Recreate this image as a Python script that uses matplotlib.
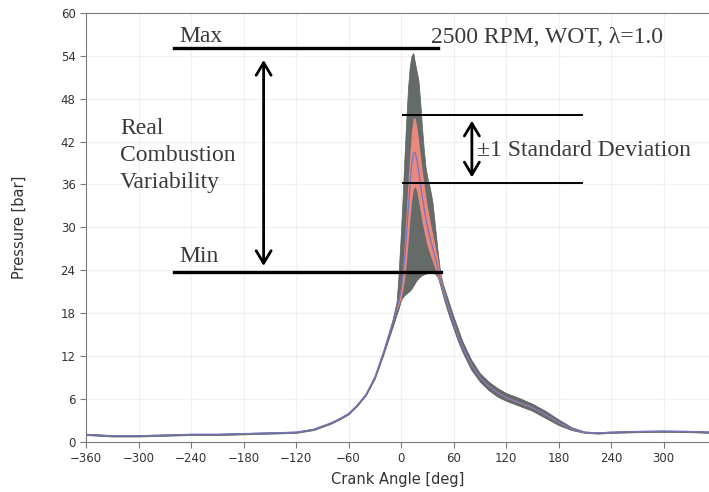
import numpy as np
import matplotlib
matplotlib.use("Agg")
import matplotlib.pyplot as plt

# crank angle grid [deg] and cylinder pressure statistics [bar]
angle = [-360, -330, -300, -270, -240, -210, -180, -150, -120, -100, -80, -70, -60, -50,
         -40, -30, -20, -10, -5, -3, 0, 2, 4, 6, 8, 10, 12, 14, 16, 18, 20, 22, 24, 26,
         28, 30, 33, 36, 39, 42, 45, 48, 52, 56, 60, 65, 70, 80, 90, 100, 110, 120, 135,
         150, 165, 180, 195, 210, 225, 240, 270, 300, 330, 355]
p_mean = [1.0, 0.8, 0.8, 0.9, 1.0, 1.0, 1.1, 1.2, 1.3, 1.7, 2.6, 3.2, 3.9, 5.1,
          6.6, 9.0, 12.5, 16.4, 18.6, 19.4, 21.0, 23.0, 25.5, 28.5, 32.0, 35.5, 38.5, 40.3, 40.5, 39.6, 38.0, 36.2, 34.5, 33.0,
          31.5, 30.2, 28.6, 27.2, 25.8, 24.3, 22.6, 21.2, 19.5, 18.0, 16.6, 14.9, 13.3, 10.8, 9.0, 7.8, 6.9, 6.2, 5.5,
          4.8, 3.8, 2.7, 1.8, 1.3, 1.2, 1.3, 1.4, 1.45, 1.4, 1.3]
p_std = [0, 0, 0, 0, 0, 0, 0, 0, 0, 0, 0, 0, 0, 0,
         0, 0, 0, 0, 0.2, 0.4, 1.0, 1.8, 2.8, 3.6, 4.3, 4.7, 5.0, 5.0, 4.8, 4.6, 4.3, 4.0, 3.7, 3.4,
         3.1, 2.8, 2.4, 2.0, 1.6, 1.2, 0.6, 0.4, 0.3, 0.2, 0.15, 0.15, 0.15, 0.15, 0.1, 0.1, 0.1, 0.1, 0.1,
         0.1, 0.1, 0.1, 0.05, 0.05, 0, 0, 0, 0, 0, 0]
p_max = [1.1, 0.9, 0.9, 1.0, 1.1, 1.1, 1.2, 1.3, 1.4, 1.8, 2.7, 3.3, 4.0, 5.2,
         6.7, 9.2, 12.8, 16.9, 19.6, 23.0, 29.5, 34.5, 40.0, 45.0, 49.5, 52.5, 54.0, 54.4, 53.0, 51.8, 50.5, 47.5, 44.0, 41.0,
         38.5, 37.0, 35.5, 33.5, 30.0, 26.5, 23.5, 22.0, 20.5, 19.0, 17.5, 15.8, 14.1, 11.5, 9.6, 8.4, 7.5, 6.8, 6.1,
         5.3, 4.3, 3.1, 2.0, 1.4, 1.3, 1.4, 1.5, 1.55, 1.5, 1.4]
p_min = [0.9, 0.7, 0.7, 0.8, 0.9, 0.9, 1.0, 1.1, 1.2, 1.6, 2.5, 3.1, 3.8, 5.0,
         6.5, 8.8, 12.2, 15.9, 17.8, 18.5, 19.8, 20.2, 20.5, 20.7, 20.9, 21.1, 21.4, 21.8, 22.2, 22.6, 22.9, 23.1, 23.3, 23.4,
         23.5, 23.6, 23.7, 23.7, 23.5, 23.0, 21.8, 20.4, 18.7, 17.2, 15.8, 14.1, 12.6, 10.1, 8.4, 7.2, 6.3, 5.7, 5.0,
         4.3, 3.3, 2.3, 1.6, 1.2, 1.1, 1.2, 1.3, 1.35, 1.3, 1.2]

x_ticks = [-360, -300, -240, -180, -120, -60, 0, 60, 120, 180, 240, 300]
y_ticks = [0, 6, 12, 18, 24, 30, 36, 42, 48, 54, 60]

# annotation levels
max_level = 55.1
min_level = 23.7
sd_hi = 45.7
sd_lo = 36.2

a = np.array(angle)
m = np.array(p_mean)
s = np.array(p_std)

fig = plt.figure(figsize=(7.09, 4.92), dpi=100)
ax = fig.add_axes([0.1213, 0.1026, 0.8787, 0.871])

ax.fill_between(a, p_min, p_max, color="#646b68", lw=0.5, edgecolor="#5a615e", zorder=2)
ax.fill_between(a, m - s, m + s, color="#e9887c", lw=0, zorder=3)
ax.plot(a, m, color="#7674c2", lw=0.9, zorder=4)

ax.set_xlim(-360, 352)
ax.set_ylim(0, 60)
ax.set_xticks(x_ticks)
ax.set_yticks(y_ticks)
ax.grid(True, color="#f0f0f0", lw=0.8, zorder=0)
ax.set_axisbelow(True)
for side in ["left", "top", "bottom"]:
    ax.spines[side].set_color("#7a7a7a")
ax.spines["right"].set_visible(False)
ax.tick_params(length=4, color="#7a7a7a", labelsize=8.5, labelcolor="#333333",
               direction="out")
ax.set_xlabel("Crank Angle [deg]", fontsize=10.5, color="#333333", labelpad=5)
ax.set_ylabel("Pressure [bar]", fontsize=10.5, color="#333333", labelpad=24)

serif = "Liberation Serif"
tcol = "#3a3a3a"

# max / min lines and variability arrow
ax.plot([-260, 42], [max_level, max_level], color="black", lw=2.4, zorder=5)
ax.plot([-260, 46], [min_level, min_level], color="black", lw=2.4, zorder=5)
ax.text(-253, max_level + 0.1, "Max", family=serif, fontsize=17, color=tcol, va="bottom")
ax.text(-253, min_level + 0.7, "Min", family=serif, fontsize=17, color=tcol, va="bottom")
ax.annotate("", xy=(-157, max_level - 1.3), xytext=(-157, min_level + 0.5),
            arrowprops=dict(arrowstyle="<->, head_length=0.5, head_width=0.3",
                            color="black", lw=2, mutation_scale=18), zorder=6)
ax.text(-321, 40.0, "Real\nCombustion\nVariability", family=serif, fontsize=17,
        color=tcol, va="center", ha="left", linespacing=1.38)

# standard deviation lines and arrow
ax.plot([2.3, 207], [sd_hi, sd_hi], color="black", lw=1.4, zorder=5)
ax.plot([2.3, 207], [sd_lo, sd_lo], color="black", lw=1.4, zorder=5)
ax.annotate("", xy=(81, sd_hi - 0.4), xytext=(81, sd_lo + 0.4),
            arrowprops=dict(arrowstyle="<->, head_length=0.5, head_width=0.3",
                            color="black", lw=2, mutation_scale=18), zorder=6)
ax.text(87, 40.8, "\u00b11 Standard Deviation", family=serif, fontsize=17,
        color=tcol, va="center", ha="left")

ax.text(34, 56.5, "2500 RPM, WOT, \u03bb=1.0", family=serif, fontsize=17,
        color=tcol, va="center", ha="left")

fig.savefig("out.png", dpi=100)
